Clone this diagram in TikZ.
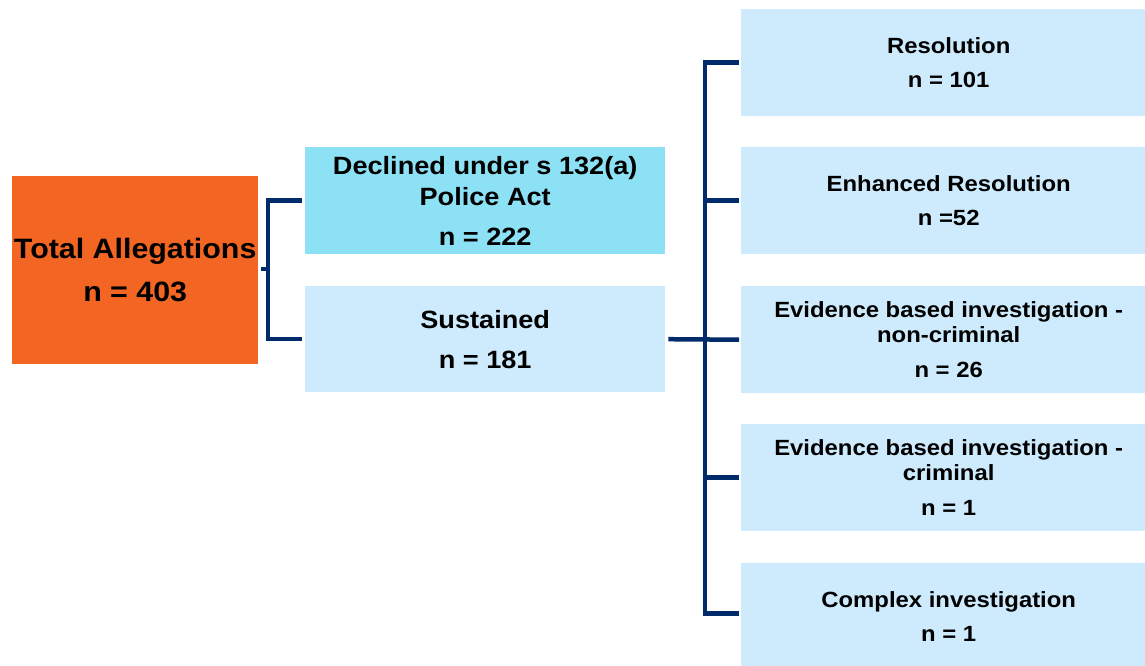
\documentclass[tikz,border=0pt]{standalone}
\usepackage{fontspec}
\setmainfont[FakeStretch=1.085]{Liberation Sans}
\definecolor{orangebox}{HTML}{F26522}
\definecolor{cyanbox}{HTML}{8DE1F5}
\definecolor{palebox}{HTML}{CDEBFC}
\definecolor{navy}{HTML}{002B6B}
\begin{document}
\begin{tikzpicture}[x=1pt,y=-1pt,
  box/.style={rectangle, inner sep=0pt, anchor=north west, align=center, font=\bfseries},
  conn/.style={draw=navy, line width=4.5pt}]
\useasboundingbox (0,0) rectangle (1145,665);
\clip (0,0) rectangle (1145,665);
% left
\node[box, fill=orangebox, minimum width=246pt, minimum height=188pt,
  font=\bfseries\fontsize{28}{31}\selectfont] (tot) at (12,176) {Total Allegations\\[12pt]n = 403};
\node[box, fill=cyanbox, minimum width=360pt, minimum height=107pt,
  font=\bfseries\fontsize{25}{31}\selectfont] (dec) at (305,147) {Declined under s 132(a)\\Police Act\\[9pt]n = 222};
\node[box, fill=palebox, minimum width=360pt, minimum height=106pt,
  font=\bfseries\fontsize{25}{31}\selectfont] (sus) at (305,286) {Sustained\\[9pt]n = 181};
% right
\tikzset{rbox/.style={box, fill=palebox, minimum width=415pt, minimum height=107pt,
  font=\bfseries\fontsize{22}{25}\selectfont}}
\node[rbox] (r1) at (741,9) {Resolution\\[9pt]n = 101};
\node[rbox] (r2) at (741,147) {Enhanced Resolution\\[9pt]n =52};
\node[rbox] (r3) at (741,286) {Evidence based investigation -\\non-criminal\\[10pt]n = 26};
\node[rbox] (r4) at (741,424) {Evidence based investigation -\\criminal\\[10pt]n = 1};
\node[rbox] (r5) at (741,563) {Complex investigation\\[9pt]n = 1};
% bracket 1
\coordinate (b1) at (268,269);
\draw[conn] ([xshift=-3pt]dec.west) -| (b1) |- ([xshift=-3pt]sus.west);
\draw[conn] ([xshift=3pt]tot.east |- b1) -- (b1);
% bracket 2
\coordinate (b2) at (705,339);
\draw[conn] ([xshift=-2pt]r1.west) -| (b2);
\draw[conn] (b2) |- ([xshift=-2pt,yshift=3pt]r5.west);
\draw[conn] ([xshift=3pt]sus.east) -- ([xshift=-2pt]r3.west);
\draw[conn] (r2.west -| b2) -- ([xshift=-2pt]r2.west);
\draw[conn] (r4.west -| b2) -- ([xshift=-2pt]r4.west);
\end{tikzpicture}
\end{document}
